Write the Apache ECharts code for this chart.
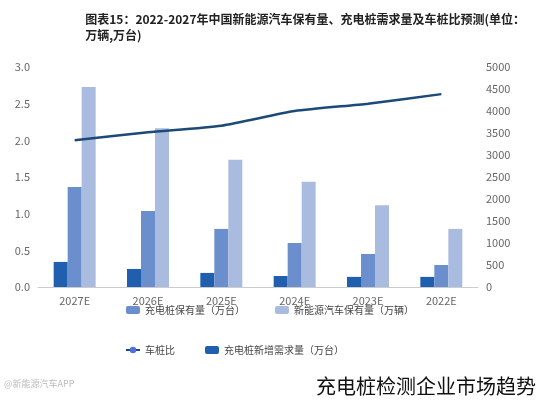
<!DOCTYPE html>
<html><head><meta charset="utf-8">
<script src="https://cdn.jsdelivr.net/npm/echarts@6/dist/echarts.min.js"></script>
<style>html,body{margin:0;background:#fff}#c{width:540px;height:400px}</style>
</head><body><div id="c"></div>
<script>
// 年份（图中从左到右）
const years = ['2022E', '2023E', '2024E', '2025E', '2026E', '2027E'];
const evStock = [1320, 1860, 2390, 2890, 3610, 4545];      // 新能源汽车保有量（万辆）
const pileStock = [500, 750, 1000, 1320, 1730, 2270];      // 充电桩保有量（万台）
const pileNew = [230, 230, 250, 320, 410, 570];            // 充电桩新增需求量（万台）
const ratio = [2.63, 2.5, 2.4, 2.2, 2.11, 2.0];            // 车桩比

const chart = echarts.init(document.getElementById('c'));
const axisTxt = { color: '#666', fontSize: 11, fontFamily: 'Noto Sans CJK SC' };
chart.setOption({
    animation: false,
    title: {
        text: '图表15：2022-2027年中国新能源汽车保有量、充电桩需求量及车桩比预测(单位：\n万辆,万台)',
        right: 10, top: 6,
        textStyle: { fontSize: 12, fontWeight: 'bold', color: '#222', lineHeight: 16, fontFamily: 'Noto Sans CJK SC' }
    },
    grid: { left: 38, right: 62, top: 67, bottom: 113 },
    legend: {
        bottom: 40, left: 120, width: 320, itemWidth: 14, itemHeight: 8, itemGap: 30,
        textStyle: { fontSize: 10, color: '#444', fontFamily: 'Noto Sans CJK SC' },
        data: ['充电桩保有量（万台）', '新能源汽车保有量（万辆）', '车桩比', '充电桩新增需求量（万台）']
    },
    xAxis: {
        type: 'category', data: years, inverse: true,
        axisLine: { lineStyle: { color: '#ccc' } }, axisTick: { show: false },
        axisLabel: axisTxt
    },
    yAxis: [
        { type: 'value', min: 0, max: 3, interval: 0.5, position: 'left',
          axisLabel: Object.assign({ formatter: v => v.toFixed(1) }, axisTxt), splitLine: { show: false } },
        { type: 'value', min: 0, max: 5000, interval: 500, position: 'right',
          axisLabel: Object.assign({ formatter: v => String(v) }, axisTxt), splitLine: { show: false } }
    ],
    series: [
        { name: '充电桩新增需求量（万台）', type: 'bar', yAxisIndex: 1, data: pileNew, barWidth: 14, barGap: '0%', itemStyle: { color: '#1f5fae' } },
        { name: '充电桩保有量（万台）', type: 'bar', yAxisIndex: 1, data: pileStock, barWidth: 14, itemStyle: { color: '#6a8fcc' } },
        { name: '新能源汽车保有量（万辆）', type: 'bar', yAxisIndex: 1, data: evStock, barWidth: 14, itemStyle: { color: '#a9bbdf' } },
        { name: '车桩比', type: 'line', yAxisIndex: 0, data: ratio, symbol: 'none', smooth: 0.2, lineStyle: { color: '#1c4a78', width: 2.5 } }
    ],
    graphic: [
        { type: 'text', right: 4, bottom: 4, style: { text: '充电桩检测企业市场趋势', fontSize: 20, fill: '#111', fontFamily: 'Noto Sans CJK SC' } },
        { type: 'text', left: 4, bottom: 12, style: { text: '@新能源汽车APP', fontSize: 9, fill: '#bbb', fontFamily: 'Noto Sans CJK SC' } }
    ]
});
</script></body></html>
